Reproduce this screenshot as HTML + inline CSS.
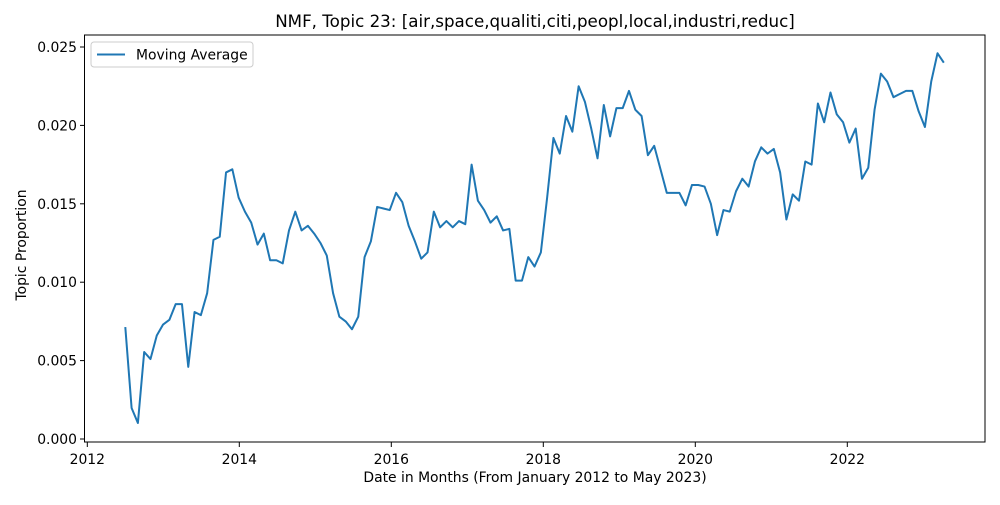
<!DOCTYPE html>
<html><head><meta charset="utf-8"><style>
body{margin:0;background:#fff;}
svg text{font-family:"DejaVu Sans","Liberation Sans",sans-serif;fill:#000;}
</style></head><body>
<svg id="chart" width="1000" height="500">
<rect x="0" y="0" width="1000" height="500" fill="#fff"/>
<text x="535" y="27" font-size="16.7" text-anchor="middle">NMF, Topic 23: [air,space,qualiti,citi,peopl,local,industri,reduc]</text>
<g id="yticks"></g>
<g id="xticks"></g>
<polyline id="line" fill="none" stroke="#1f77b4" stroke-width="2" stroke-linejoin="round"/>
<rect x="84.5" y="35" width="900.5" height="407" fill="none" stroke="#000" stroke-width="1"/>
<text x="26" y="245" font-size="13.9" text-anchor="middle" transform="rotate(-90 26 245)">Topic Proportion</text>
<text x="535" y="482" font-size="13.9" text-anchor="middle">Date in Months (From January 2012 to May 2023)</text>
<g>
<rect x="91" y="42" width="162" height="25" rx="3" fill="#fff" stroke="#ccc"/>
<line x1="97" y1="54.5" x2="125" y2="54.5" stroke="#1f77b4" stroke-width="2"/>
<text x="136" y="59.5" font-size="13.9">Moving Average</text>
</g>
</svg>
<script>
const startYear = 2012.5, endYear = 2023.27;
const values = [0.00714,0.00198,0.00102,0.00555,0.0051,0.0066,0.0073,0.0076,0.0086,0.0086,0.0046,0.0081,0.0079,0.0093,0.0127,0.0129,0.0170,0.0172,0.0154,0.0145,0.0138,0.0124,0.0131,0.0114,0.0114,0.0112,0.0133,0.0145,0.0133,0.0136,0.0131,0.0125,0.0117,0.0093,0.0078,0.0075,0.0070,0.0078,0.0116,0.0126,0.0148,0.0147,0.0146,
0.0157,0.0151,0.0136,0.0126,0.0115,0.0119,0.0145,0.0135,0.0139,0.0135,0.0139,0.0137,0.0175,0.0152,0.0146,0.0138,0.0142,0.0133,0.0134,0.0101,0.0101,0.0116,0.0110,0.0119,0.0154,0.0192,0.0182,0.0206,0.0196,0.0225,0.0215,0.0198,0.0179,0.0213,0.0193,0.0211,0.0211,0.0222,0.0210,0.0206,0.0181,0.0187,0.0172,0.0157,0.0157,0.0157,
0.0149,0.0162,0.0162,0.0161,0.0150,0.0130,0.0146,0.0145,0.0158,0.0166,0.0161,0.0177,0.0186,0.0182,0.0185,0.0170,0.0140,0.0156,0.0152,0.0177,0.0175,0.0214,0.0202,0.0221,0.0207,0.0202,0.0189,0.0198,0.0166,0.0173,0.0210,0.0233,0.0228,0.0218,0.0220,0.0222,0.0222,0.0209,0.0199,0.0228,0.0246,0.0240];
const yTicks = [0, 0.005, 0.010, 0.015, 0.020, 0.025];
const yTickLabels = ["0.000","0.005","0.010","0.015","0.020","0.025"];
const xTicks = [2012, 2014, 2016, 2018, 2020, 2022];
const xTickLabels = ["2012","2014","2016","2018","2020","2022"];

const NS = "http://www.w3.org/2000/svg";
const xs = t => 87.3 + (t - 2012) * 76;
const ys = v => 439 - v / 0.025 * 392;
function mk(tag, attrs, parent){const e=document.createElementNS(NS,tag);for(const k in attrs)e.setAttribute(k,attrs[k]);parent.appendChild(e);return e;}
const yg=document.getElementById('yticks'), xg=document.getElementById('xticks');
yTicks.forEach((v,i)=>{
  const l=mk('line',{x1:80,x2:84.5,y1:ys(v),y2:ys(v),stroke:'#000'},yg);
  
  
  const t=mk('text',{x:77,y:ys(v)+5,'font-size':13.9,'text-anchor':'end'},yg);
  t.textContent=yTickLabels[i];
  
  
});
xTicks.forEach((v,i)=>{
  const l=mk('line',{x1:xs(v),x2:xs(v),y1:442,y2:447,stroke:'#000'},xg);
  
  
  const t=mk('text',{x:xs(v),y:464,'font-size':13.9,'text-anchor':'middle'},xg);
  t.textContent=xTickLabels[i];
  
  
});
const n=values.length;
const pts=values.map((v,i)=>xs(startYear+(endYear-startYear)*i/(n-1)).toFixed(2)+','+ys(v).toFixed(2));
document.getElementById('line').setAttribute('points',pts.join(' '));
</script>
</body></html>
